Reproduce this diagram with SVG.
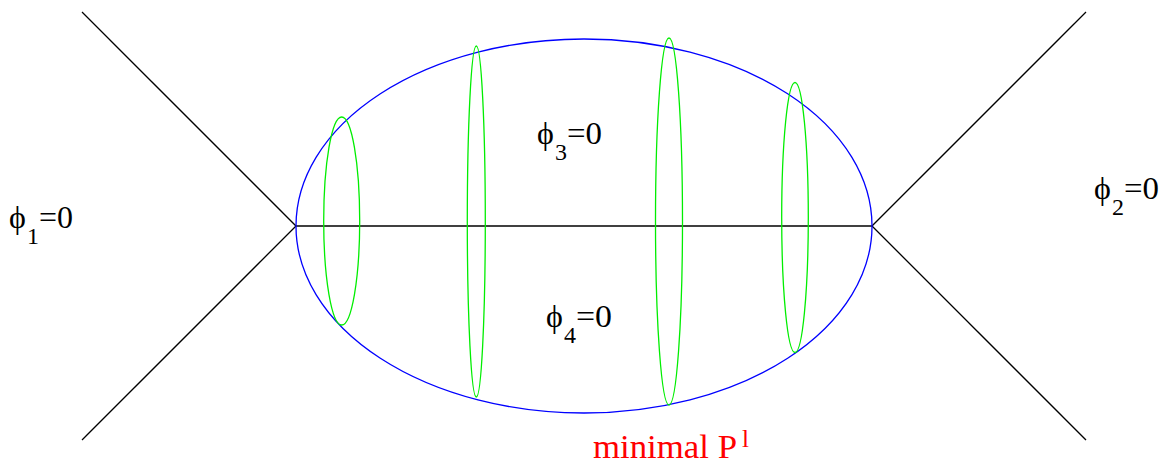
<svg xmlns="http://www.w3.org/2000/svg" width="1163" height="463" viewBox="0 0 1163 463">
<style>
.ln{stroke:#000;stroke-width:1.3;fill:none}
.bl{stroke:#0000ff;stroke-width:1.3;fill:none}
.gr{stroke:#00ee00;stroke-width:1.3;fill:none}
.t{fill:#000;font-size:32px}
.s{fill:#000;font-size:24px}
.r{fill:#ff0000}
</style>
<rect width="1163" height="463" fill="#fff"/>
<g id="connectors">
<line class="ln" x1="82" y1="12" x2="296" y2="226"/>
<line class="ln" x1="82" y1="440" x2="296" y2="226"/>
<line class="ln" x1="1086" y1="12" x2="872" y2="226"/>
<line class="ln" x1="1086" y1="440" x2="872" y2="226"/>
<line class="ln" x1="296" y1="226" x2="872" y2="226"/>
</g>
<g id="surface">
<ellipse class="bl" cx="584" cy="226" rx="288" ry="187"/>
</g>
<g id="circles">
<ellipse class="gr" cx="341.7" cy="221" rx="18" ry="104"/>
<ellipse class="gr" cx="476.3" cy="221.5" rx="9" ry="175.5"/>
<ellipse class="gr" cx="669" cy="221.5" rx="13.5" ry="183.5"/>
<ellipse class="gr" cx="795" cy="217.5" rx="13.3" ry="135"/>
</g>
<g font-family="Liberation Serif, serif">
<g id="label-phi1"><text class="t" x="9" y="228">ϕ</text><text class="s" x="27" y="244">1</text><text class="t" x="39" y="228" textLength="34" lengthAdjust="spacingAndGlyphs">=0</text></g>
<g id="label-phi2"><text class="t" x="1094" y="199">ϕ</text><text class="s" x="1112" y="215">2</text><text class="t" x="1124" y="199" textLength="35" lengthAdjust="spacingAndGlyphs">=0</text></g>
<g id="label-phi3"><text class="t" x="537" y="144">ϕ</text><text class="s" x="555" y="160">3</text><text class="t" x="567" y="144" textLength="35" lengthAdjust="spacingAndGlyphs">=0</text></g>
<g id="label-phi4"><text class="t" x="546" y="327">ϕ</text><text class="s" x="564" y="343">4</text><text class="t" x="576" y="327" textLength="36" lengthAdjust="spacingAndGlyphs">=0</text></g>
<g id="label-minimal"><text class="r" x="593" y="458" font-size="33" textLength="144" lengthAdjust="spacingAndGlyphs">minimal P</text><text class="r" x="742" y="447" font-size="25">l</text></g>
</g>
</svg>
